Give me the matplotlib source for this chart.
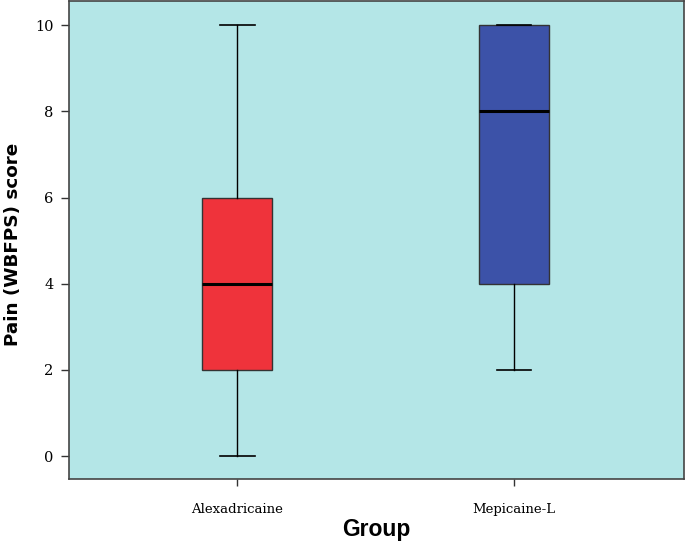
import matplotlib
matplotlib.use("Agg")
import matplotlib.pyplot as plt

groups = ["Alexadricaine", "Mepicaine-L"]
whislo = [0, 2]
q1 = [2, 4]
med = [4, 8]
q3 = [6, 10]
whishi = [10, 10]
colors = ["#ef333b", "#3c52a8"]
yticks = [0, 2, 4, 6, 8, 10]

fig = plt.figure(figsize=(6.85, 5.44), dpi=100)
ax = fig.add_axes([0.1007, 0.1195, 0.8978, 0.8785])
ax.set_facecolor("#b4e6e7")

stats = []
for i, g in enumerate(groups):
    stats.append(dict(label=g, whislo=whislo[i], q1=q1[i], med=med[i], q3=q3[i], whishi=whishi[i], fliers=[]))

bp = ax.bxp(stats, positions=[1, 2], widths=0.253, patch_artist=True, showfliers=False,
            boxprops=dict(edgecolor="#333333", linewidth=1.0),
            medianprops=dict(color="black", linewidth=2.2),
            whiskerprops=dict(color="black", linewidth=1.0),
            capprops=dict(color="black", linewidth=1.2),
            capwidths=0.125)
for patch, c in zip(bp["boxes"], colors):
    patch.set_facecolor(c)

ax.set_xlim(0.391, 2.614)
ax.set_ylim(-0.53, 10.56)
ax.set_yticks(yticks)
ax.set_yticklabels([str(v) for v in yticks], fontfamily="DejaVu Serif", fontsize=10.5)
ax.set_xticks([1, 2])
ax.set_xticklabels(groups, fontfamily="DejaVu Serif", fontsize=9.5)
ax.tick_params(axis="y", length=6, width=1, color="#333333", pad=5)
ax.tick_params(axis="x", length=5, width=1, color="#333333", pad=12)
for s in ax.spines.values():
    s.set_color("#444444")
    s.set_linewidth(1.2)

ax.set_ylabel("Pain (WBFPS) score", fontfamily="DejaVu Sans", fontweight="bold", fontsize=13.2)
ax.yaxis.set_label_coords(-0.077, 0.49)
ax.set_xlabel("Group", fontfamily="Liberation Sans", fontweight="bold", fontsize=16.5, labelpad=2)

fig.savefig("out.png", dpi=100)
